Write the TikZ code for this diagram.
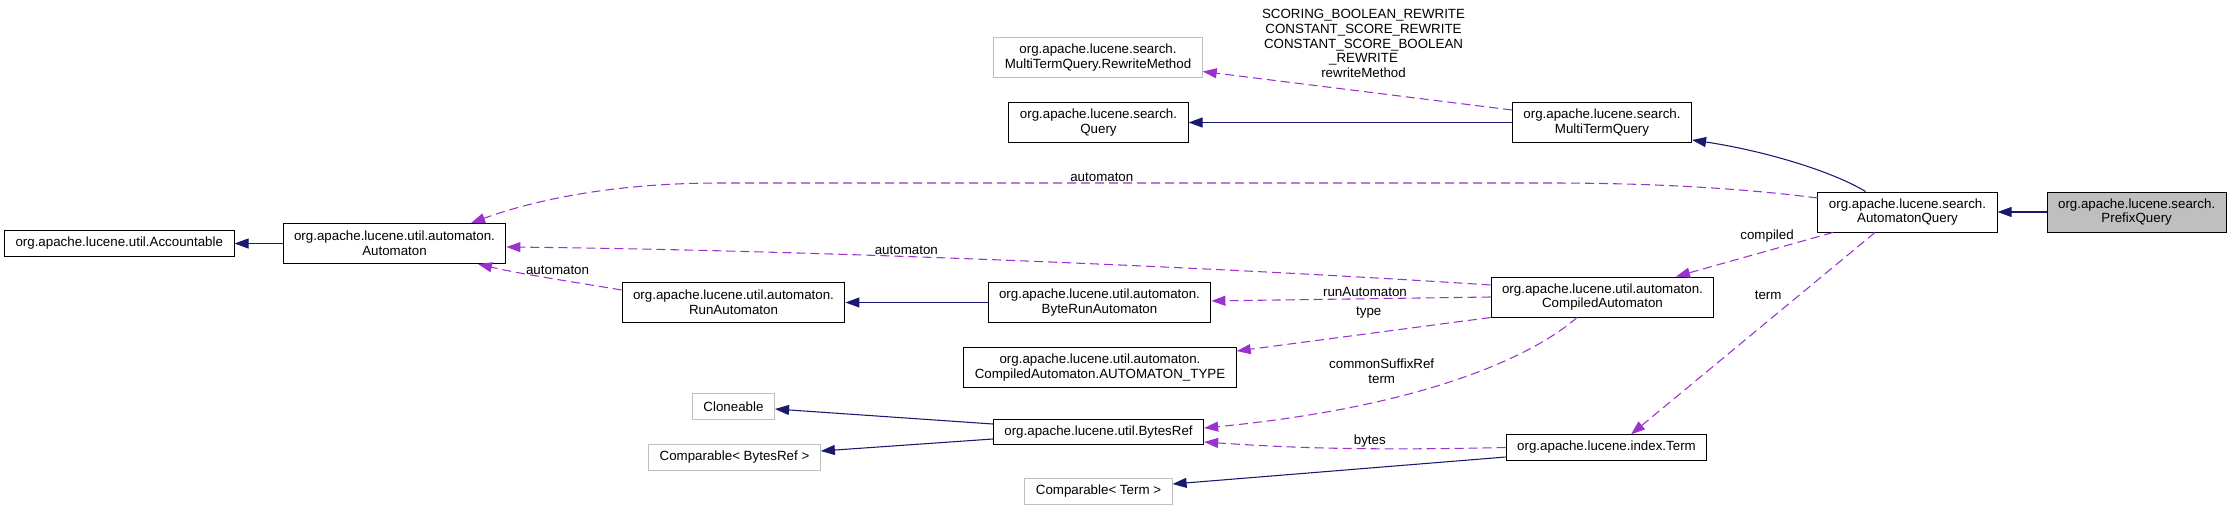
\documentclass[tikz,border=0pt]{standalone}
\usepackage{fontspec}
\setmainfont{Liberation Sans}
\usepackage{tikz}
\usetikzlibrary{arrows.meta,calc,positioning}
\definecolor{MidnightBlue}{HTML}{191970}
\definecolor{DarkOrchid}{HTML}{9A32CD}
\definecolor{LightGrey}{HTML}{BFBFBF}

\begin{document}
\begin{tikzpicture}[x=0.75pt,y=-0.75pt,
    cls/.style={draw,line width=.75pt,fill=white,align=center,inner xsep=8.25pt,
                inner ysep=0pt,minimum height=30pt,font=\fontsize{10}{11}\selectfont},
    single/.style={cls,minimum height=19pt},
    ext/.style={draw=LightGrey},
    inh/.style={-{Triangle[length=10.5pt,width=7.5pt]},line width=.8pt,MidnightBlue},
    use/.style={-{Triangle[length=10.5pt,width=7.5pt]},line width=.8pt,DarkOrchid,
                dash pattern=on 6.75pt off 3.75pt},
    lbl/.style={font=\fontsize{10}{11}\selectfont,align=center,inner sep=1pt,text=black}]
    \useasboundingbox (0,0) rectangle (2231,511);
    \node[cls] (aq) at (1907.5,212) {org.apache.lucene.search.\\AutomatonQuery};
    \node[cls,fill=LightGrey,right=36.75pt of aq] (prefix) {org.apache.lucene.search.\\PrefixQuery};
    \node[cls] (mtq) at (1602,122.5) {org.apache.lucene.search.\\MultiTermQuery};
    \node[cls,ext] (rewrite) at (1098,57.5) {org.apache.lucene.search.\\MultiTermQuery.RewriteMethod};
    \node[cls] (query) at (1098.5,122.5) {org.apache.lucene.search.\\Query};
    \node[cls] (compiled) at (1602.5,297) {org.apache.lucene.util.automaton.\\CompiledAutomaton};
    \node[cls] (bytera) at (1099.5,302.5) {org.apache.lucene.util.automaton.\\ByteRunAutomaton};
    \node[cls] (runa) at (733.5,302.5) {org.apache.lucene.util.automaton.\\RunAutomaton};
    \node[cls] (autom) at (394.5,243.5) {org.apache.lucene.util.automaton.\\Automaton};
    \node[single,left=36pt of autom] (acc) {org.apache.lucene.util.Accountable};
    \node[cls] (atype) at (1100,367.5) {org.apache.lucene.util.automaton.\\CompiledAutomaton.AUTOMATON\_TYPE};
    \node[single] (bytesref) at (1098.5,432) {org.apache.lucene.util.BytesRef};
    \node[single,ext] (clone) at (733.5,406.5) {Cloneable};
    \node[single,ext] (cmpbr) at (734.5,457.5) {Comparable< BytesRef >};
    \node[single] (term) at (1606.5,447.5) {org.apache.lucene.index.Term};
    \node[single,ext] (cmpterm) at (1098.5,491.5) {Comparable< Term >};
    \draw[inh] (prefix) -- (aq);
    \draw[inh] ($(aq.north)+(-42,0)$) .. controls (1830,170) and (1760,150) .. ($(mtq.east)+(0,17.5)$);
    \draw[inh] (mtq) -- (query);
    \draw[use] ($(mtq.west)+(0,-12.5)$) -- node[lbl,pos=.48,above=9pt]
      {SCORING\_BOOLEAN\_REWRITE\\CONSTANT\_SCORE\_REWRITE\\CONSTANT\_SCORE\_BOOLEAN\\\_REWRITE\\rewriteMethod}
      ($(rewrite.east)+(0,14)$);
    \draw[use] ($(aq.west)+(0,-14)$) .. controls (1740,188) and (1650,183) .. (1550,183)
      -- node[lbl,pos=.54,above]{automaton} (720,183)
      .. controls (620,183) and (540,198) .. ($(autom.north)+(76.5,0)$);
    \draw[use] ($(compiled.west)+(0,-12)$) .. controls (1200,266) and (800,250) ..
      node[lbl,pos=.59,above]{automaton} ($(autom.east)+(0,3.5)$);
    \draw[use] ($(runa.west)+(0,-12.5)$) .. controls (580,283) and (520,274) ..
      node[lbl,pos=.45,above=2pt]{automaton} ($(autom.south)+(83.5,0)$);
    \draw[inh] (autom) -- (acc);
    \draw[inh] (bytera) -- (runa);
    \draw[use] (compiled.west) -- node[lbl,pos=.45,above]{runAutomaton} (bytera);
    \draw[use] (compiled.south west) -- node[lbl,pos=.48,above=10pt]{type} ($(atype.east)+(0,-16.5)$);
    \draw[use] ($(compiled.south)+(-25.5,0)$) .. controls (1540,350) and (1440,405) ..
      node[lbl,pos=.7,above=11pt]{commonSuffixRef\\term} ($(bytesref.east)+(0,-4)$);
    \draw[use] ($(aq.south)+(-32.5,0)$) -- node[lbl,pos=.31,left=12pt]{term} ($(term.north)+(24.5,0)$);
    \draw[use] ($(aq.south)+(-74.5,0)$) -- node[lbl,pos=.42,above=5pt]{compiled} ($(compiled.north)+(73.5,0)$);
    \draw[use] (term.west) .. controls (1350,451) and (1280,447) ..
      node[lbl,pos=.35,above]{bytes} ($(bytesref.east)+(0,10)$);
    \draw[inh] ($(bytesref.west)+(0,-8)$) -- ($(clone.east)+(0,2.5)$);
    \draw[inh] ($(bytesref.west)+(0,7)$) -- ($(cmpbr.east)+(0,-6.5)$);
    \draw[inh] ($(term.west)+(0,9.5)$) -- ($(cmpterm.east)+(0,-7.5)$);
  \end{tikzpicture}
\end{document}
